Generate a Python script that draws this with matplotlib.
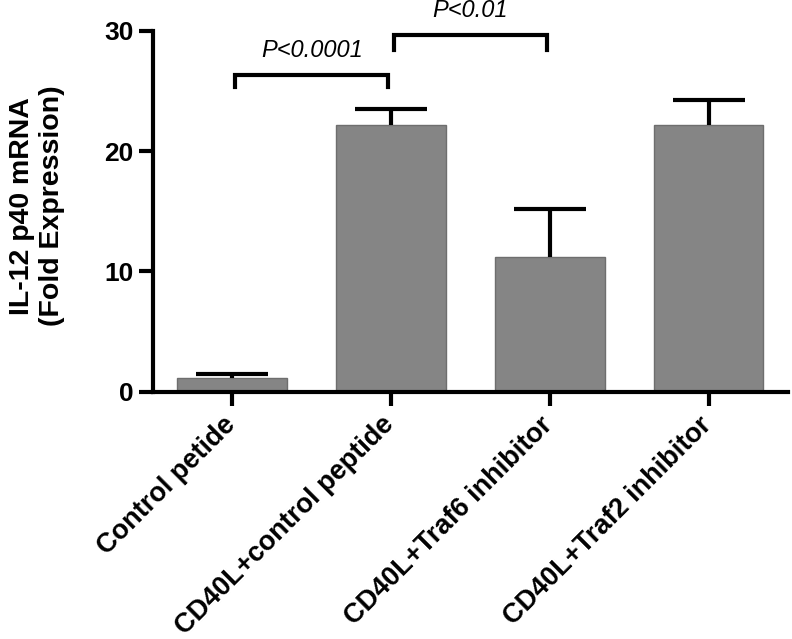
import matplotlib.pyplot as plt
import matplotlib.transforms as mtransforms

plt.rcParams['font.family'] = ['Liberation Sans', 'DejaVu Sans']

groups = ['Control petide', 'CD40L+control peptide', 'CD40L+Traf6 inhibitor', 'CD40L+Traf2 inhibitor']
fold_expr = [1.15, 22.2, 11.2, 22.2]
err_up = [0.35, 1.3, 3.95, 2.0]

# significance brackets: (left bar, right bar, bracket height, leg bottom, label)
brackets = [(0, 1, 26.3, 25.3, 'P<0.0001'),
            (1, 2, 29.6, 28.4, 'P<0.01')]

fig = plt.figure(figsize=(7.92, 6.39), dpi=100)
ax = fig.add_axes([0.193, 0.387, 0.802, 0.565])

x = range(len(groups))
ax.bar(x, fold_expr, width=0.69, color='#858585', edgecolor='#6e6e6e', linewidth=1, zorder=2)
eb = ax.errorbar(x, fold_expr, yerr=[[0] * len(err_up), err_up], fmt='none', ecolor='black',
                 elinewidth=3, capsize=26, capthick=3, zorder=3)
# only the upper caps
eb[1][0].set_visible(False)

for i0, i1, h, low, label in brackets:
    xl = i0 + 0.02
    xr = i1 - 0.02
    ax.plot([xl, xl, xr, xr], [low, h, h, low], color='black', lw=3, clip_on=False,
            solid_joinstyle='miter')
    ax.text((i0 + i1) / 2, h + 1.1, label, ha='center', va='bottom', fontsize=17,
            style='italic')

ax.set_xlim(-0.5, 3.5)
ax.set_ylim(0, 30)
ax.set_yticks([0, 10, 20, 30])
ax.set_xticks(list(x))
ax.set_xticklabels([])
# rotated category labels, nudged a little left of the ticks
shift = mtransforms.ScaledTranslation(-0.1, -0.2, fig.dpi_scale_trans)
for i, g in zip(x, groups):
    ax.text(i, 0, g, transform=ax.get_xaxis_transform() + shift, rotation=45,
            ha='right', va='top', rotation_mode='anchor', fontsize=19.5, fontweight='bold')
for t in ax.get_yticklabels():
    t.set_fontsize(19)
    t.set_fontweight('bold')
ax.tick_params(width=3, length=10, pad=4)
ax.spines['top'].set_visible(False)
ax.spines['right'].set_visible(False)
ax.spines['left'].set_linewidth(3)
ax.spines['bottom'].set_linewidth(3)
ax.set_ylabel('IL-12 p40 mRNA\n(Fold Expression)', fontsize=20.5, fontweight='bold',
              linespacing=1.2)
ax.yaxis.set_label_coords(-0.139, 0.514)

fig.savefig('out.png', dpi=100)
